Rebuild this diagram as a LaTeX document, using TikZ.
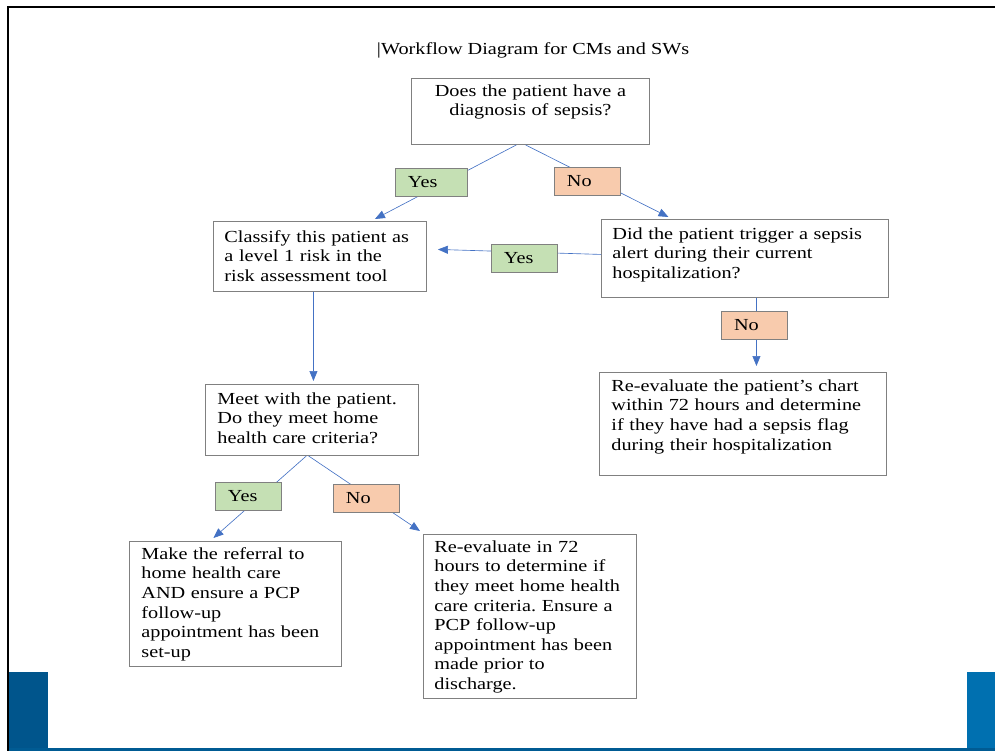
\documentclass[tikz,border=0pt]{standalone}
\usepackage{fontspec}
\setmainfont{Liberation Serif}[FakeStretch=1.2]
\frenchspacing
\definecolor{wfGray}{HTML}{808080}
\definecolor{wfYes}{HTML}{C5E0B4}
\definecolor{wfNo}{HTML}{F8CBAD}
\definecolor{wfLine}{HTML}{4472C4}
\definecolor{wfBandL}{HTML}{00558C}
\definecolor{wfBandR}{HTML}{0070B0}
\usetikzlibrary{calc,arrows.meta}

\begin{document}
\begin{tikzpicture}[x=0.025cm, y=-0.025cm,
  box/.style={draw=wfGray, line width=0.6pt, anchor=north west, align=left,
    inner ysep=0pt, font=\fontsize{12}{13.9}\selectfont},
  tag/.style={draw=wfGray, line width=0.6pt, align=left, inner xsep=0.325cm,
    text width=1cm, minimum height=0.7cm, font=\fontsize{12}{13.9}\selectfont},
  arr/.style={-{Triangle[length=0.25cm, width=0.2cm]}, line width=0.45pt, color=wfLine}
]
  \useasboundingbox (0,0) rectangle (995,751);

  % slide frame and bands
  \fill[wfBandL] (9,672) rectangle (48,751);
  \fill[wfBandR] (967,672) rectangle (995,751);
  \fill[wfBandL!80!wfBandR] (9,748) rectangle (995,751);
  \draw[line width=0.05cm] (8,751) -- (8,7) -- (995,7);

  \node[anchor=base west, font=\fontsize{12}{13.9}\selectfont] (title) at (372,54)
    {|Workflow Diagram for CMs and SWs};

  \node[box, align=center, inner xsep=0.25cm, text width=5.45cm,
    text height=0.45cm, text depth=1.2cm] (sepsis) at (411,78)
    {Does the patient have a\\ diagnosis of sepsis?};
  \node[box, inner xsep=0.275cm, text width=4.775cm,
    text height=0.525cm, text depth=1.225cm] (classify) at (213,221)
    {Classify this patient as\\ a level 1 risk in the\\ risk assessment tool};
  \node[box, inner xsep=0.275cm, text width=6.625cm,
    text height=0.5cm, text depth=1.45cm] (alert) at (601,219)
    {Did the patient trigger a sepsis\\ alert during their current\\ hospitalization?};
  \node[box, inner xsep=0.3cm, text width=6.575cm,
    text height=0.475cm, text depth=2.1cm] (chart) at (599,372)
    {Re-evaluate the patient’s chart\\ within 72 hours and determine\\ if they have had a sepsis flag\\ during their hospitalization};
  \node[box, inner xsep=0.3cm, text width=4.725cm,
    text height=0.5cm, text depth=1.275cm] (meet) at (205,384)
    {Meet with the patient.\\ Do they meet home\\ health care criteria?};
  \node[box, inner xsep=0.3cm, text width=4.7cm,
    text height=0.45cm, text depth=2.675cm] (referral) at (129,541)
    {Make the referral to\\ home health care\\ AND ensure a PCP\\ follow-up\\ appointment has been\\ set-up};
  \node[box, inner xsep=0.275cm, text width=4.775cm,
    text height=0.45cm, text depth=3.65cm] (recheck) at (423,534)
    {Re-evaluate in 72\\ hours to determine if\\ they meet home health\\ care criteria. Ensure a\\ PCP follow-up\\ appointment has been\\ made prior to\\ discharge.};

  \draw[arr] ($(sepsis.south)+(-14,0)$) -- ($(classify.north)+(55,-2)$);
  \draw[arr] ($(sepsis.south)+(-5,0)$) -- ($(alert.north)+(-76.5,-2)$);
  \draw[arr] ($(alert.west)+(0,-4)$) -- ($(classify.east)+(11,-7)$);
  \draw[arr] ($(alert.south)+(11.5,0)$) -- ($(chart.north)+(13.5,-6)$);
  \draw[arr] ($(classify.south)+(-6.5,0)$) -- ($(meet.north)+(1.5,-3)$);
  \draw[arr] ($(meet.south)+(-5.5,0)$) -- ($(referral.north)+(-22,-3)$);
  \draw[arr] ($(meet.south)+(-3.5,0)$) -- ($(recheck.north west)+(-3,-3)$);

  \node[tag, fill=wfYes, text width=1.15cm] (yesA) at (431,182) {Yes};
  \node[tag, fill=wfNo] (noA) at (587,181) {No};
  \node[tag, fill=wfYes] (yesB) at (524,258) {Yes};
  \node[tag, fill=wfNo] (noB) at (754,325) {No};
  \node[tag, fill=wfYes] (yesC) at (248,496) {Yes};
  \node[tag, fill=wfNo] (noC) at (366,498) {No};
\end{tikzpicture}
\end{document}
